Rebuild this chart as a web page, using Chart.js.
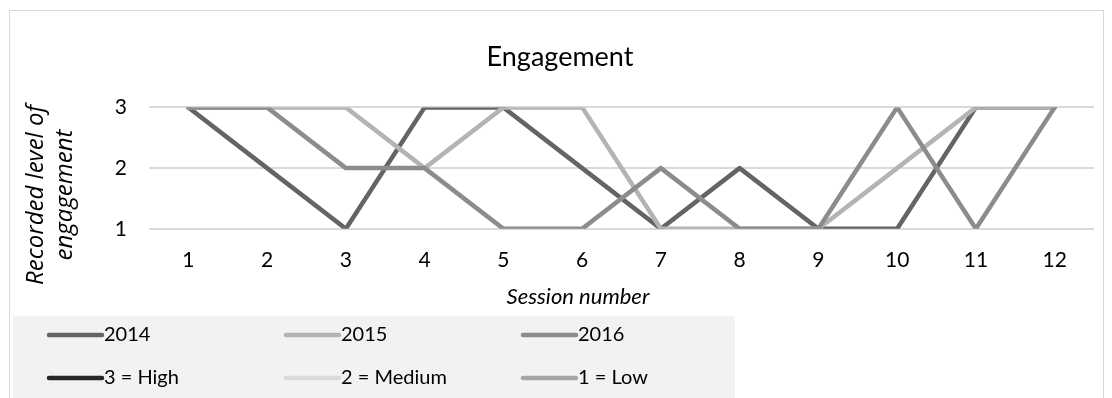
<!DOCTYPE html>
<html>
<head>
<meta charset="utf-8">
<script src="https://cdn.jsdelivr.net/npm/chart.js@4.4.1/dist/chart.umd.min.js"></script>
<style>
  html, body { margin: 0; padding: 0; background: #ffffff; }
  #wrap { width: 1112px; height: 398px; position: relative; }
</style>
</head>
<body>
<div id="wrap"><canvas id="chart" width="1112" height="398"></canvas></div>
<script>
// Session numbers along the x axis
const sessions = ['1', '2', '3', '4', '5', '6', '7', '8', '9', '10', '11', '12'];

// Recorded engagement level per session (3 = High, 2 = Medium, 1 = Low)
const engagement2014 = [3, 2, 1, 3, 3, 2, 1, 2, 1, 1, 3, 3];
const engagement2015 = [3, 3, 3, 2, 3, 3, 1, 1, 1, 2, 3, 3];
const engagement2016 = [3, 3, 2, 2, 1, 1, 2, 1, 1, 3, 1, 3];

// Key entries for the engagement scale (no plotted values)
const scaleKeyLabels = ['3 = High', '2 = Medium', '1 = Low'];
const emptySeries = sessions.map(() => null);

const yTicks = [1, 2, 3];

const FONT = 'Lato, "Open Sans", "DejaVu Sans", sans-serif';

const lineStyle = {
  fill: false,
  tension: 0,
  pointRadius: 0,
  pointHoverRadius: 0,
  borderWidth: 4.5,
  borderJoinStyle: 'round',
  borderCapStyle: 'round',
  spanGaps: false
};

const datasets = [
  Object.assign({ label: '2014', data: engagement2014, borderColor: '#646464', order: 2 }, lineStyle),
  Object.assign({ label: '2015', data: engagement2015, borderColor: '#b4b4b4', order: 1 }, lineStyle),
  Object.assign({ label: '2016', data: engagement2016, borderColor: '#8c8c8c', order: 0 }, lineStyle),
  Object.assign({ label: scaleKeyLabels[0], data: emptySeries, borderColor: '#262626', order: 3 }, lineStyle),
  Object.assign({ label: scaleKeyLabels[1], data: emptySeries, borderColor: '#dadada', order: 4 }, lineStyle),
  Object.assign({ label: scaleKeyLabels[2], data: emptySeries, borderColor: '#a6a6a6', order: 5 }, lineStyle)
];

// Frame, grey key panel, axis titles and the three-column key
const decor = {
  id: 'decor',
  beforeDraw(chart) {
    const ctx = chart.ctx;
    ctx.save();
    ctx.fillStyle = '#f2f2f2';
    ctx.fillRect(13, 316, 722, 90);
    ctx.strokeStyle = '#d9d9d9';
    ctx.lineWidth = 1;
    ctx.strokeRect(9.5, 10.5, 1094, 400);
    ctx.restore();
  },
  afterDraw(chart) {
    const ctx = chart.ctx;
    ctx.save();
    ctx.fillStyle = '#000000';

    // x axis title
    ctx.font = 'italic 22px ' + FONT;
    ctx.textAlign = 'center';
    ctx.textBaseline = 'middle';
    ctx.fillText('Session number', 578, 297);

    // y axis title, two rotated lines
    ctx.save();
    ctx.translate(0, 195);
    ctx.rotate(-Math.PI / 2);
    ctx.font = 'italic 24px "Open Sans", ' + FONT;
    ctx.textAlign = 'center';
    ctx.textBaseline = 'middle';
    ctx.fillText('Recorded level of', 0, 36);
    ctx.fillText('engagement', 0, 65);
    ctx.restore();

    // key: three columns, two rows
    const colX = [47, 284, 521];
    const rowY = [335, 378];
    ctx.font = '20px ' + FONT;
    ctx.textAlign = 'left';
    ctx.textBaseline = 'middle';
    chart.data.datasets.forEach((ds, i) => {
      const x = colX[i % 3];
      const y = rowY[Math.floor(i / 3)];
      ctx.strokeStyle = ds.borderColor;
      ctx.lineWidth = 4.5;
      ctx.lineCap = 'round';
      ctx.beginPath();
      ctx.moveTo(x + 2, y);
      ctx.lineTo(x + 55, y);
      ctx.stroke();
      ctx.fillStyle = '#000000';
      ctx.fillText(ds.label, x + 57, y);
    });
    ctx.restore();
  }
};

new Chart(document.getElementById('chart'), {
  type: 'line',
  data: { labels: sessions, datasets: datasets },
  options: {
    responsive: false,
    animation: false,
    events: [],
    layout: { padding: { top: 0, left: 26, right: 18, bottom: 106 } },
    plugins: {
      legend: { display: false },
      tooltip: { enabled: false },
      title: {
        display: true,
        text: 'Engagement',
        color: '#000000',
        font: { family: FONT, size: 27, weight: 'normal', lineHeight: 1.2 },
        padding: { top: 41, bottom: 34 }
      }
    },
    scales: {
      x: {
        offset: true,
        grid: { display: false, drawTicks: false },
        border: { display: false },
        ticks: { color: '#000000', padding: 19, font: { family: FONT, size: 21 } }
      },
      y: {
        min: 1,
        max: 3,
        afterBuildTicks(scale) { scale.ticks = yTicks.map(v => ({ value: v })); },
        afterFit(scale) { scale.width = 123; },
        grid: { color: '#d9d9d9', lineWidth: 2, drawTicks: false },
        border: { display: false },
        ticks: { color: '#000000', padding: 22, font: { family: FONT, size: 21 } }
      }
    }
  },
  plugins: [decor]
});
</script>
</body>
</html>
